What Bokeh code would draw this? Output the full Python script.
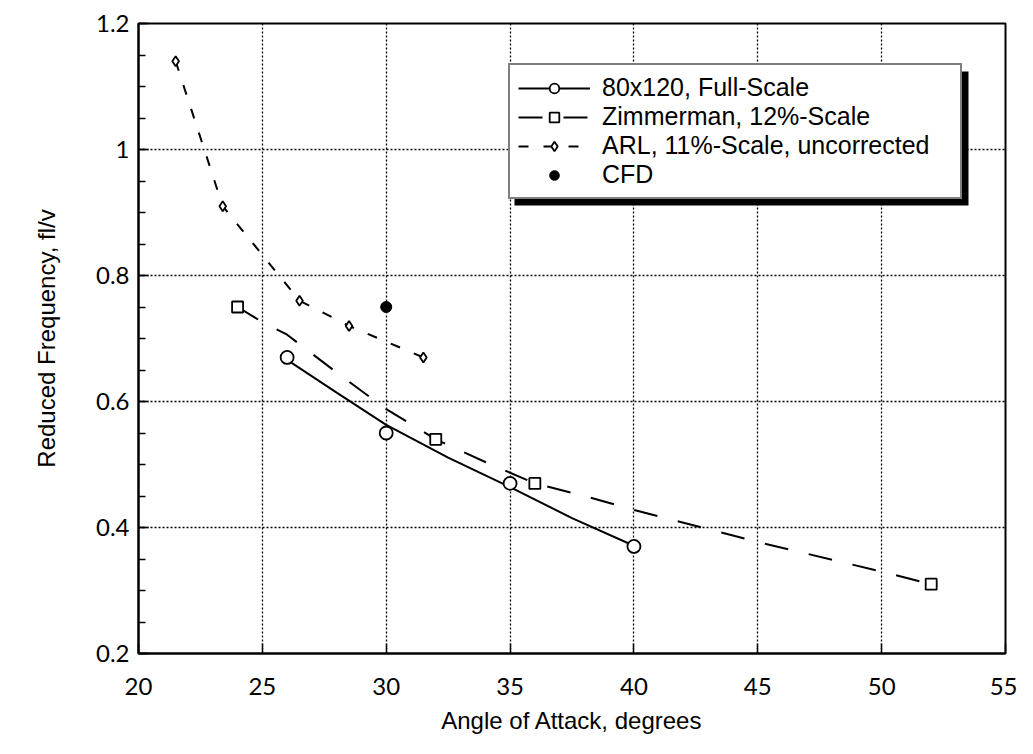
from bokeh.plotting import figure
from bokeh.models import Legend, LegendItem, BoxAnnotation, FixedTicker, Range1d
from bokeh.embed import file_html
from bokeh.resources import INLINE

# ---- data ----
fs_x = [26, 30, 35, 40]
fs_y = [0.67, 0.55, 0.47, 0.37]
fs_curve_x = [26, 28, 30, 32.5, 35, 37.5, 40]
fs_curve_y = [0.666, 0.614, 0.563, 0.511, 0.464, 0.415, 0.371]

zm_x = [24, 32, 36, 52]
zm_y = [0.75, 0.54, 0.47, 0.31]
zm_curve_x = [24, 25, 26, 28, 30, 32, 33, 34, 36, 38, 40, 45, 50, 52]
zm_curve_y = [0.75, 0.726, 0.706, 0.646, 0.588, 0.54, 0.522, 0.504, 0.47, 0.45, 0.428, 0.377, 0.33, 0.31]

arl_x = [21.5, 23.4, 26.5, 28.5, 31.5]
arl_y = [1.14, 0.91, 0.76, 0.72, 0.67]

cfd_x = [30]
cfd_y = [0.75]

x_ticks = [20, 25, 30, 35, 40, 45, 50, 55]
y_ticks = [0.2, 0.4, 0.6, 0.8, 1.0, 1.2]
y_tick_labels = {0.2: "0.2", 0.4: "0.4", 0.6: "0.6", 0.8: "0.8", 1.0: "1", 1.2: "1.2"}

LABEL_FONT = "Liberation Sans"
TICK_FONT = "Lato"

p = figure(width=1017, height=738, output_backend="svg", toolbar_location=None,
           x_range=Range1d(20, 55), y_range=Range1d(0.2, 1.2),
           min_border_left=138, min_border_right=12, min_border_top=23, min_border_bottom=85)
p.background_fill_color = "white"
p.border_fill_color = "white"
p.outline_line_color = "black"
p.outline_line_width = 2

# grid
for g in (p.xgrid, p.ygrid):
    g.grid_line_color = "black"
    g.grid_line_dash = "2 2"
    g.grid_line_width = 1.3
p.xgrid.ticker = FixedTicker(ticks=x_ticks)
p.ygrid.ticker = FixedTicker(ticks=y_ticks)

# axes
p.xaxis.ticker = FixedTicker(ticks=x_ticks)
p.yaxis.ticker = FixedTicker(ticks=y_ticks,
                             minor_ticks=[0.2 + 0.05 * i for i in range(21)])
p.yaxis.major_label_overrides = y_tick_labels
for ax in (p.xaxis[0], p.yaxis[0]):
    ax.axis_line_color = "black"
    ax.axis_line_width = 2
    ax.major_tick_in = 10
    ax.major_tick_out = 0
    ax.major_tick_line_width = 1.5
    ax.major_tick_line_color = "black"
    ax.major_label_text_font = TICK_FONT
    ax.major_label_text_font_size = "24px"
    ax.major_label_text_color = "black"
    ax.axis_label_text_font = LABEL_FONT
    ax.axis_label_text_font_size = "24px"
    ax.axis_label_text_font_style = "normal"
    ax.axis_label_text_color = "black"
p.xaxis.minor_tick_line_color = None
p.yaxis.minor_tick_in = 7
p.yaxis.minor_tick_out = 0
p.yaxis.minor_tick_line_color = "black"
p.yaxis.minor_tick_line_width = 1.5
p.xaxis.major_label_standoff = 24
p.yaxis.major_label_standoff = 9
p.xaxis.axis_label = "Angle of Attack, degrees"
p.yaxis.axis_label = "Reduced Frequency, fl/v"
p.xaxis.axis_label_standoff = 9
p.yaxis.axis_label_standoff = 33

# series
fs_line = p.line(fs_curve_x, fs_curve_y, line_color="black", line_width=2)
fs_pts = p.scatter(fs_x, fs_y, marker="circle", size=13, fill_color="white",
                   line_color="black", line_width=1.8)

zm_line = p.line(zm_curve_x, zm_curve_y, line_color="black", line_width=2, line_dash="24 21")
zm_pts = p.scatter(zm_x, zm_y, marker="square", size=11, fill_color="white",
                   line_color="black", line_width=1.8)

arl_line = p.line(arl_x, arl_y, line_color="black", line_width=2, line_dash="10 15")
arl_pts = p.scatter(arl_x, arl_y, marker="diamond", size=10, fill_color="white",
                    line_color="black", line_width=1.8)

cfd_pts = p.scatter(cfd_x, cfd_y, marker="circle", size=11, fill_color="black",
                    line_color="black")

# legend (box 454 x 134 at screen offset (370, 454) from the frame's lower-left)
LEG_X, LEG_Y, LEG_W, LEG_H, SH = 370, 454, 454, 134, 6
shadow = BoxAnnotation(left=LEG_X + SH, right=LEG_X + LEG_W + SH,
                       top=LEG_Y + LEG_H - SH, bottom=LEG_Y - SH,
                       left_units="screen", right_units="screen",
                       top_units="screen", bottom_units="screen",
                       fill_color="black", fill_alpha=1.0, line_color=None)
p.add_layout(shadow)

legend = Legend(items=[
    LegendItem(label="80x120, Full-Scale", renderers=[fs_line, fs_pts]),
    LegendItem(label="Zimmerman, 12%-Scale", renderers=[zm_line, zm_pts]),
    LegendItem(label="ARL, 11%-Scale, uncorrected", renderers=[arl_line, arl_pts]),
    LegendItem(label="CFD", renderers=[cfd_pts]),
], location=(LEG_X, LEG_Y))
legend.border_line_color = "black"
legend.border_line_width = 2
legend.background_fill_color = "white"
legend.background_fill_alpha = 1.0
legend.label_text_font = LABEL_FONT
legend.label_text_font_size = "25px"
legend.label_text_color = "black"
legend.glyph_width = 72
legend.glyph_height = 24
legend.label_height = 24
legend.label_width = 350
legend.label_standoff = 12
legend.spacing = 0
legend.padding = 8
legend.margin = 0
p.add_layout(legend)

open("out.html", "w").write(file_html(p, INLINE))
